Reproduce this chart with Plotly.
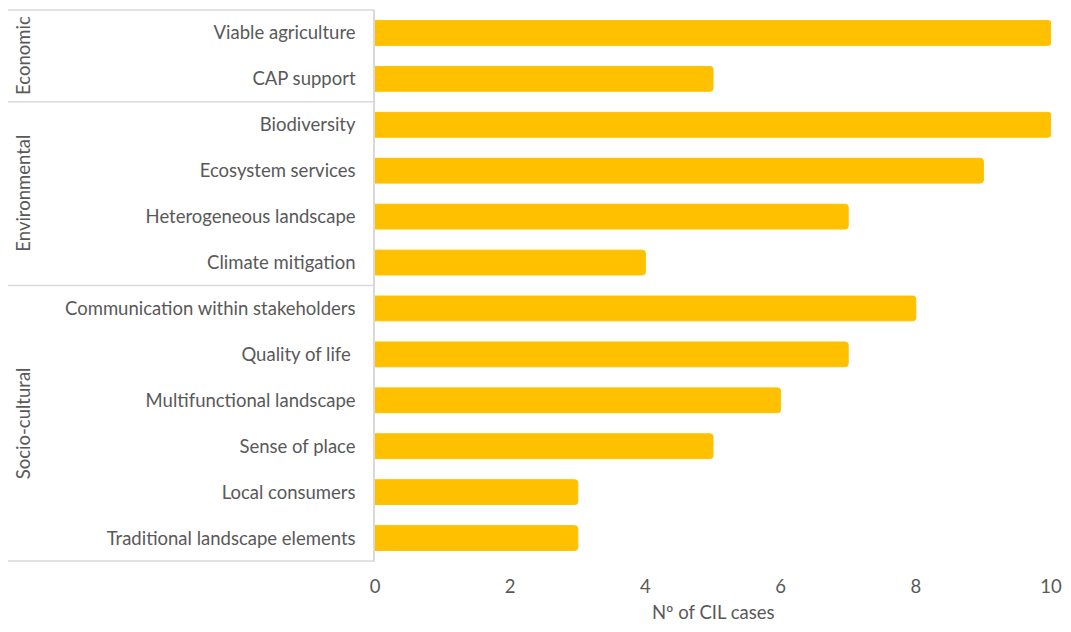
import plotly.graph_objects as go

categories = ["Viable agriculture", "CAP support", "Biodiversity", "Ecosystem services",
              "Heterogeneous landscape", "Climate mitigation", "Communication within stakeholders",
              "Quality of life ", "Multifunctional landscape", "Sense of place",
              "Local consumers", "Traditional landscape elements"]
values = [10, 5, 10, 9, 7, 4, 8, 7, 6, 5, 3, 3]
groups = ["Economic", "Environmental", "Socio-cultural"]
group_sizes = [2, 4, 6]
x_ticks = [0, 2, 4, 6, 8, 10]
x_title = "Nº of CIL cases"

OFF = 8  # page body margin
W, H = 1071 - 2 * OFF, 632 - 2 * OFF
L, T = 375 - OFF, 10 - OFF
pw, ph = 676, 551
R, B = W - L - pw, H - T - ph

fig = go.Figure(go.Bar(
    x=values, y=categories, orientation="h",
    marker=dict(color="#FFC000", line=dict(color="#FFC000", width=1)),
    width=0.54,
))

font = dict(family="Lato, Carlito, Calibri, sans-serif", size=18.5, color="#595959")
line_col = "#D9D9D9"

def px_x(p):
    return (p - OFF - L) / pw

def px_y(p):
    return 1 - (p - OFF - T) / ph

shapes = []
annotations = []
n = len(categories)
row_h = ph / n
start = 0
bounds = [0]
for g, s in zip(groups, group_sizes):
    start += s
    bounds.append(start)
for b in bounds:
    yp = 10 + b * row_h
    shapes.append(dict(type="line", xref="paper", yref="paper",
                       x0=px_x(8), x1=0, y0=px_y(yp), y1=px_y(yp),
                       line=dict(color=line_col, width=1.5)))
for i, g in enumerate(groups):
    yc = 10 + (bounds[i] + bounds[i + 1]) / 2 * row_h
    annotations.append(dict(text=g, xref="paper", yref="paper", x=px_x(23), y=px_y(yc),
                            showarrow=False, textangle=-90, font=font,
                            xanchor="center", yanchor="middle"))
annotations.append(dict(text=x_title, xref="paper", yref="paper", x=0.5, y=px_y(612),
                        showarrow=False, font=font, xanchor="center", yanchor="middle"))

fig.update_layout(
    width=W, height=H,
    margin=dict(l=L, r=R, t=T, b=B),
    paper_bgcolor="white", plot_bgcolor="white",
    font=font,
    showlegend=False,
    barcornerradius=3,
    shapes=shapes,
    annotations=annotations,
    xaxis=dict(range=[0, 10], tickvals=x_ticks, showgrid=False, zeroline=False,
               showline=False, ticks="", ticklabelstandoff=12, automargin=False,
               tickfont=font),
    yaxis=dict(categoryorder="array", categoryarray=categories, autorange="reversed",
               showgrid=False, zeroline=False, showline=True, linecolor=line_col, linewidth=1.5,
               ticks="", ticklabelstandoff=14, tickfont=font, automargin=False),
)

fig.write_html("out.html")
